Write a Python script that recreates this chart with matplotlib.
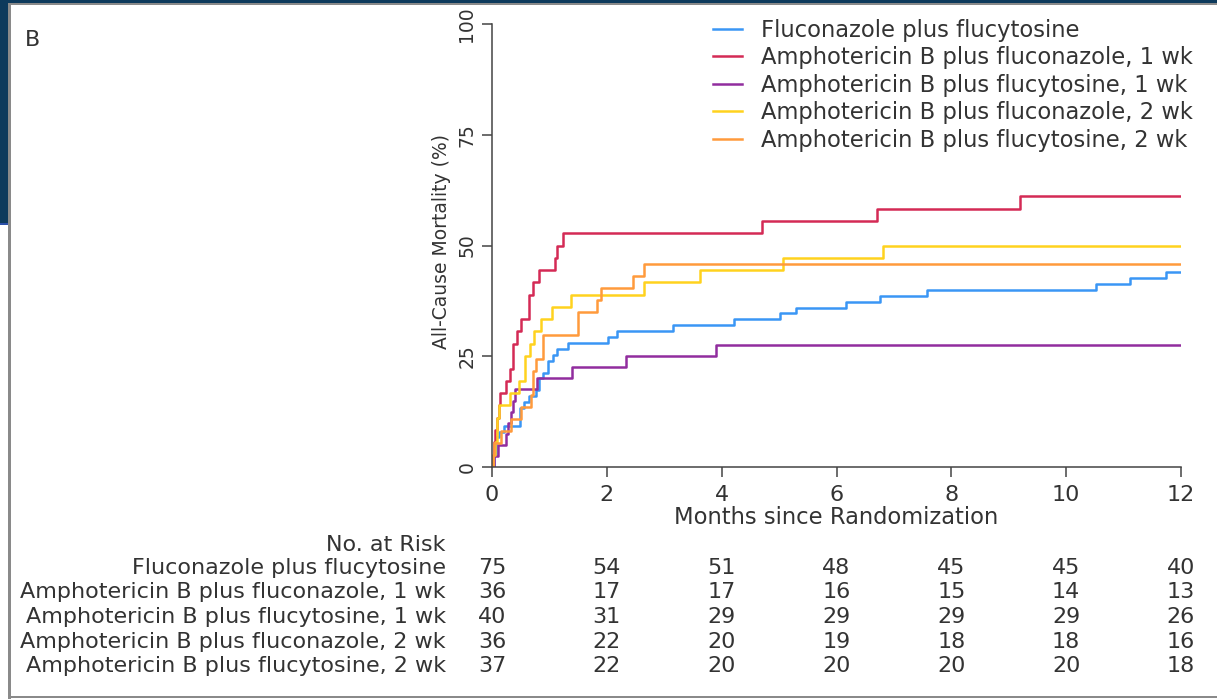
import numpy as np
import matplotlib.pyplot as plt
from matplotlib.patches import Rectangle
from matplotlib.transforms import blended_transform_factory

# Kaplan-Meier style cumulative mortality (%)
# step times in months, value after each step
fluc_5fc_t = [0, 0.03, 0.07, 0.13, 0.21, 0.48, 0.56, 0.65, 0.77, 0.82, 0.88, 0.97, 1.06, 1.14, 1.32,
              2.02, 2.17, 3.16, 4.22, 5.01, 5.30, 6.16, 6.76, 7.57, 10.52, 11.11, 11.74, 12]
fluc_5fc_y = [0, 2.7, 6.7, 8.0, 9.3, 13.3, 14.7, 16.0, 17.3, 20.0, 21.3, 24.0, 25.3, 26.7, 28.0,
              29.3, 30.7, 32.0, 33.3, 34.7, 36.0, 37.3, 38.7, 40.0, 41.3, 42.7, 44.0, 44.0]

amb_fluc_1wk_t = [0, 0.02, 0.04, 0.06, 0.08, 0.12, 0.14, 0.24, 0.31, 0.36, 0.44, 0.51, 0.65, 0.71,
                  0.82, 1.09, 1.13, 1.24, 4.70, 6.70, 9.20, 12]
amb_fluc_1wk_y = [0, 2.8, 5.6, 8.3, 11.1, 13.9, 16.7, 19.4, 22.2, 27.8, 30.6, 33.3, 38.9, 41.7,
                  44.4, 47.2, 50.0, 52.8, 55.6, 58.3, 61.1, 61.1]

amb_5fc_1wk_t = [0, 0.03, 0.10, 0.25, 0.28, 0.33, 0.36, 0.40, 0.78, 1.39, 2.33, 3.90, 12]
amb_5fc_1wk_y = [0, 2.5, 5.0, 7.5, 10.0, 12.5, 15.0, 17.5, 20.0, 22.5, 25.0, 27.5, 27.5]

amb_fluc_2wk_t = [0, 0.02, 0.05, 0.09, 0.13, 0.31, 0.47, 0.58, 0.66, 0.73, 0.86, 1.04, 1.38,
                  2.64, 3.62, 5.07, 6.81, 12]
amb_fluc_2wk_y = [0, 2.8, 5.6, 11.1, 13.9, 16.7, 19.4, 25.0, 27.8, 30.6, 33.3, 36.1, 38.9,
                  41.7, 44.4, 47.2, 50.0, 50.0]

amb_5fc_2wk_t = [0, 0.01, 0.03, 0.16, 0.33, 0.51, 0.68, 0.71, 0.77, 0.88, 1.49, 1.83, 1.89, 2.45, 2.64, 12]
amb_5fc_2wk_y = [0, 2.7, 5.4, 8.1, 10.8, 13.5, 16.2, 21.6, 24.3, 29.7, 35.1, 37.8, 40.5, 43.2, 45.9, 45.9]

labels = ['Fluconazole plus flucytosine',
          'Amphotericin B plus fluconazole, 1 wk',
          'Amphotericin B plus flucytosine, 1 wk',
          'Amphotericin B plus fluconazole, 2 wk',
          'Amphotericin B plus flucytosine, 2 wk']
colors = ['#3A96F5', '#D42A55', '#912D9E', '#FFD21E', '#FF9A3C']

risk_times = [0, 2, 4, 6, 8, 10, 12]
risk_counts = [[75, 54, 51, 48, 45, 45, 40],
               [36, 17, 17, 16, 15, 14, 13],
               [40, 31, 29, 29, 29, 29, 26],
               [36, 22, 20, 19, 18, 18, 16],
               [37, 22, 20, 20, 20, 20, 18]]

curves = [(fluc_5fc_t, fluc_5fc_y), (amb_fluc_1wk_t, amb_fluc_1wk_y), (amb_5fc_1wk_t, amb_5fc_1wk_y),
          (amb_fluc_2wk_t, amb_fluc_2wk_y), (amb_5fc_2wk_t, amb_5fc_2wk_y)]

W, H = 1217, 699
TXT = '#333333'
plt.rcParams['font.family'] = ['DejaVu Sans']

fig = plt.figure(figsize=(W / 100, H / 100), dpi=100)
fig.patch.set_facecolor('white')


def px_rect(x, y, w, h, color):
    # pixel box measured from the top-left corner
    fig.add_artist(Rectangle((x / W, 1 - (y + h) / H), w / W, h / H,
                             transform=fig.transFigure, color=color, lw=0))


# slide background peeking round the panel
px_rect(0, 0, W, 3, '#0D3A5C')
px_rect(0, 0, 8, 223, '#0D3A5C')
px_rect(0, 223, 8, 2, '#2A4FA8')
px_rect(8, 3, W - 8, 2, '#8A8A8A')
px_rect(8, 3, 3, H - 3, '#8A8A8A')
px_rect(8, 696, W - 8, 2, '#8A8A8A')

ax = fig.add_axes([492 / W, 1 - 467 / H, 689 / W, 443 / H])
for (t, y), lab, c in zip(curves, labels, colors):
    ax.step(t, y, where='post', color=c, lw=1.8, label=lab)

ax.set_xlim(0, 12)
ax.set_ylim(0, 100)
ax.set_xticks(range(0, 13, 2))
ax.set_yticks([0, 25, 50, 75, 100])
for s in ['top', 'right']:
    ax.spines[s].set_visible(False)
for s in ['left', 'bottom']:
    ax.spines[s].set_color('#444444')
    ax.spines[s].set_linewidth(1.1)
ax.tick_params(length=7.2, width=1.1, color='#444444', labelcolor=TXT)
ax.tick_params(axis='x', labelsize=16, pad=6)
ax.tick_params(axis='y', labelsize=13.5, pad=4, labelrotation=90)
for lbl in ax.get_yticklabels():
    lbl.set_va('center')

ax.set_xlabel('Months since Randomization', fontsize=16.3, color=TXT)
ax.xaxis.set_label_coords(0.5, -0.088)
ax.set_ylabel('All-Cause Mortality (%)', fontsize=13.5, color=TXT)
ax.yaxis.set_label_coords(-0.059, 0.51)

leg = ax.legend(loc='upper left', bbox_to_anchor=(0.321, 1.012), frameon=False, fontsize=16.3,
                handlelength=1.28, handletextpad=0.84, labelspacing=0.2, borderpad=0, borderaxespad=0)
for t in leg.get_texts():
    t.set_color(TXT)

fig.text(25 / W, 1 - 40 / H, 'B', fontsize=16, color=TXT, ha='left', va='center')

# number at risk table
row_y = [568, 592.5, 617, 641.5, 666]
fig.text(446 / W, 1 - 545 / H, 'No. at Risk', fontsize=16, color=TXT, ha='right', va='center')
tr = blended_transform_factory(ax.transData, fig.transFigure)
for lab, counts, yy in zip(labels, risk_counts, row_y):
    fig.text(446 / W, 1 - yy / H, lab, fontsize=16, color=TXT, ha='right', va='center')
    for t, n in zip(risk_times, counts):
        ax.text(t, 1 - yy / H, str(n), transform=tr, fontsize=16, color=TXT,
                ha='center', va='center', clip_on=False)

fig.savefig('out.png', dpi=100)
